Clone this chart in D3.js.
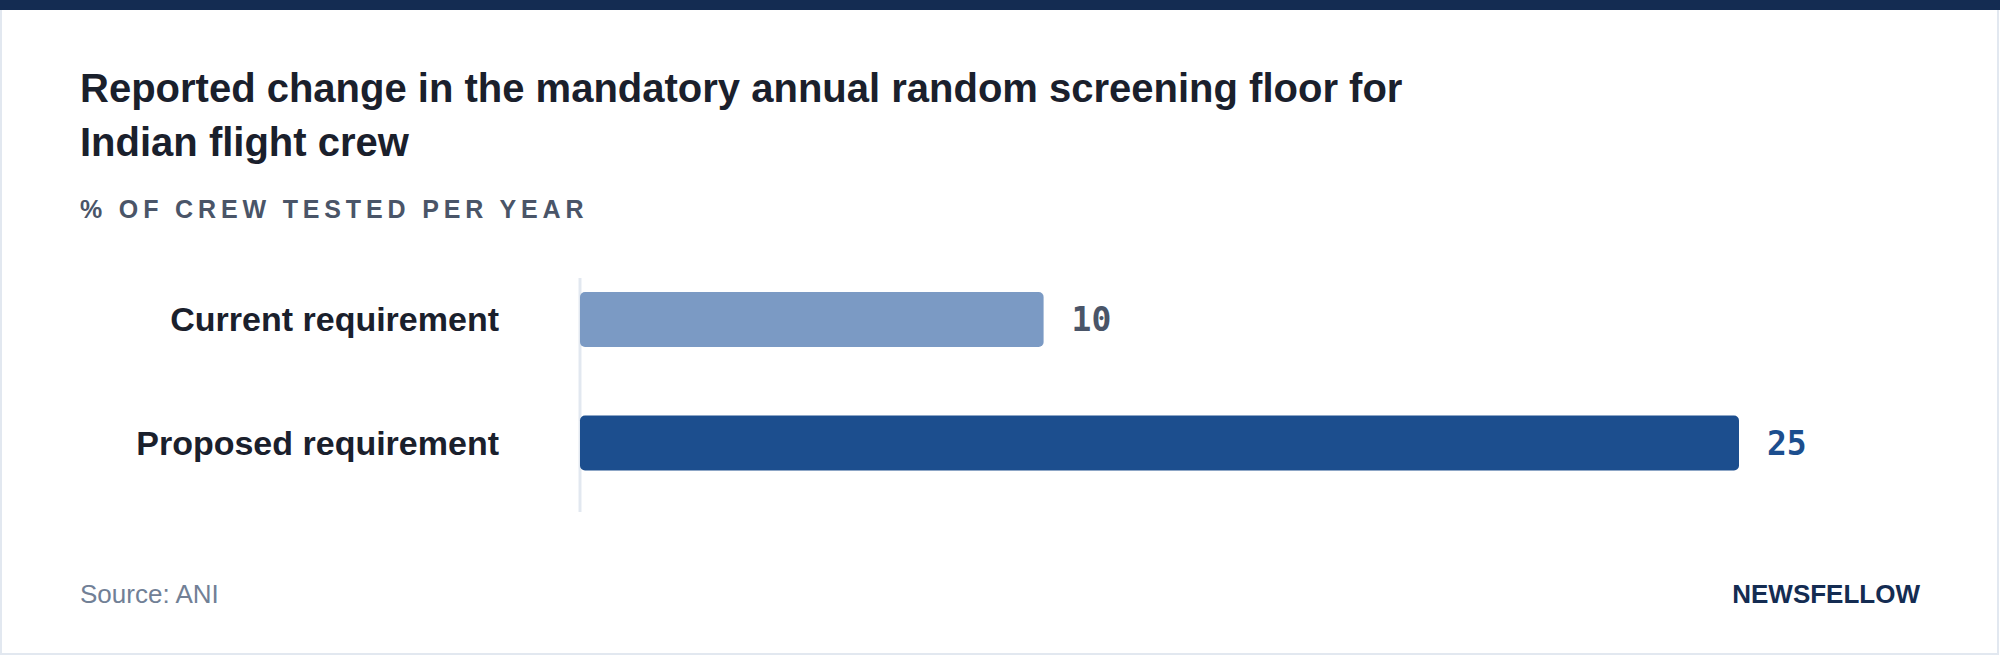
<!DOCTYPE html>
<html><head><meta charset="utf-8">
<script src="https://cdn.jsdelivr.net/npm/d3@7"></script>
<style>body{margin:0;background:#fff;}svg{display:block;font-family:"Liberation Sans",Arial,sans-serif;}</style>
</head><body><svg id="c" width="2000" height="656"></svg>
<script>
const categories = ["Current requirement", "Proposed requirement"];
const values = [10, 25];
const barColors = ["#7b9ac4", "#1c4e8e"];
const labelColors = ["#4a5568", "#1c4e8e"];
const titleLines = ["Reported change in the mandatory annual random screening floor for", "Indian flight crew"];

const svg = d3.select("#c");
svg.append("rect").attr("x",1).attr("y",1).attr("width",1997).attr("height",653).attr("fill","#fff").attr("stroke","#e2e8f0").attr("stroke-width",2);
svg.append("rect").attr("x",0).attr("y",0).attr("width",2000).attr("height",10).attr("fill","#142c52");

svg.selectAll("text.title").data(titleLines).join("text").attr("class","title")
  .attr("x",80).attr("y",(d,i)=>102+i*54).attr("font-size",40).attr("font-weight","bold").attr("fill","#1a202c").text(d=>d);
svg.append("text").attr("x",80).attr("y",218).attr("font-size",25).attr("font-weight","bold").attr("letter-spacing",4.85).attr("fill","#4a5568").text("% OF CREW TESTED PER YEAR");

const x = d3.scaleLinear().domain([0,25]).range([580,1739]);
const y = d3.scaleBand().domain(categories).range([292,470.5]).paddingInner(0.555).paddingOuter(0);

svg.append("line").attr("x1",580).attr("x2",580).attr("y1",278).attr("y2",512).attr("stroke","#e2e8f0").attr("stroke-width",3);

svg.selectAll("rect.bar").data(values).join("rect").attr("class","bar")
  .attr("x",x(0)).attr("y",(d,i)=>y(categories[i])).attr("width",d=>x(d)-x(0)).attr("height",y.bandwidth())
  .attr("rx",5).attr("fill",(d,i)=>barColors[i]);

svg.selectAll("text.cat").data(categories).join("text").attr("class","cat")
  .attr("x",499).attr("y",d=>y(d)+y.bandwidth()/2).attr("dy","0.35em").attr("text-anchor","end")
  .attr("font-size",34).attr("font-weight","bold").attr("fill","#1a202c").text(d=>d);

svg.selectAll("text.val").data(values).join("text").attr("class","val")
  .attr("x",d=>x(d)+28).attr("y",(d,i)=>y(categories[i])+y.bandwidth()/2).attr("dy","0.36em")
  .attr("font-family","'DejaVu Sans Mono',monospace").attr("font-size",33).attr("font-weight","bold")
  .attr("fill",(d,i)=>labelColors[i]).text(d=>d);

svg.append("text").attr("x",80).attr("y",603).attr("font-size",26).attr("fill","#718096").text("Source: ANI");
svg.append("text").attr("x",1920).attr("y",603).attr("text-anchor","end").attr("font-size",26).attr("font-weight","bold").attr("fill","#142c52").text("NEWSFELLOW");
</script></body></html>
